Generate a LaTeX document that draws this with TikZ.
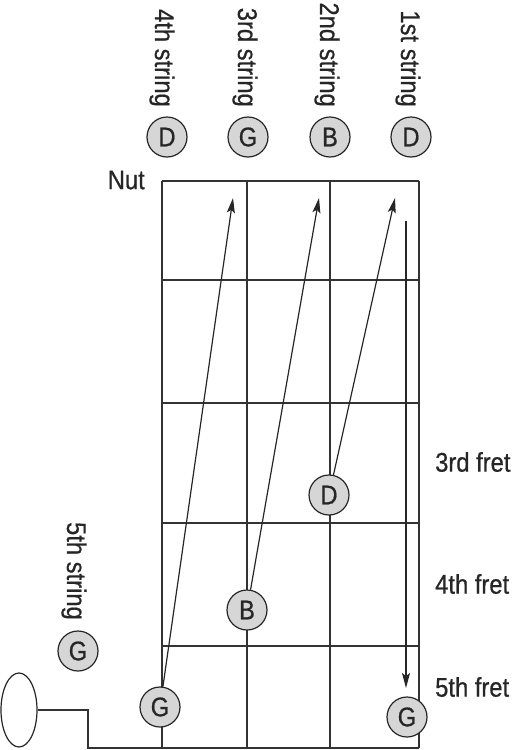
\documentclass[tikz,border=0pt]{standalone}
\usepackage{fontspec}
\setmainfont{Liberation Sans}[FakeStretch=0.88,FakeBold=0.6]
\usetikzlibrary{arrows.meta,shapes.geometric}
\begin{document}
\begin{tikzpicture}[x=1pt,y=-1pt,
  gridline/.style={draw=black!80, line width=1.3pt},
  note/.style={circle, draw=black!85, line width=1.2pt, fill=black!16, minimum size=40pt, inner sep=0pt, font=\fontsize{27}{27}\selectfont, text=black!85},
  lbl/.style={font=\fontsize{27}{27}\selectfont, text=black!85, inner sep=0pt},
  arr/.style={draw=black!85, line width=1.2pt, -{Stealth[length=15pt,width=8pt,inset=3pt]}}]
\useasboundingbox (0,0) rectangle (513,750);
% grid
\foreach \x in {162,247,330,419} \draw[gridline] (\x,181) -- (\x,748);
\foreach \y in {181,280,403,523,646} \draw[gridline] (162,\y) -- (419,\y);
% peg
\node[ellipse, draw=black!85, line width=1.2pt, minimum width=36pt, minimum height=74pt, inner sep=0pt] (peg) at (19,710) {};
\coordinate (corner) at (88,748);
\coordinate (br) at (419,748);
\draw[gridline] (peg.east) -| (corner) -- (br);
% labels
\node[lbl, rotate=-90, anchor=east] (s4) at (162,107) {4th string};
\node[lbl, rotate=-90, anchor=east] (s3) at (245,107) {3rd string};
\node[lbl, rotate=-90, anchor=east] (s2) at (327,107) {2nd string};
\node[lbl, rotate=-90, anchor=east] (s1) at (408,107) {1st string};
\node[lbl, rotate=-90, anchor=east] (s5) at (74,620) {5th string};
\node[lbl, anchor=east] (nut) at (145,180) {Nut};
\node[lbl, anchor=west] (f3) at (435,462) {3rd fret};
\node[lbl, anchor=west] (f4) at (435,584) {4th fret};
\node[lbl, anchor=west] (f5) at (435,687) {5th fret};
% notes
\node[note] (oD4) at (167,137) {D};
\node[note] (oG3) at (248,137) {G};
\node[note] (oB2) at (330,137) {B};
\node[note] (oD1) at (411,137) {D};
\node[note] (oG5) at (78,651) {G};
\node[note] (nG) at (160,707) {G};
\node[note] (nB) at (247,610) {B};
\node[note] (nD) at (329,495) {D};
\node[note] (nG1) at (407,717) {G};
% arrow targets
\coordinate (t3) at (233,198);
\coordinate (t2) at (319,198);
\coordinate (t1) at (395,198);
\coordinate (v1) at (406,221);
\coordinate (v2) at (406,688);
\draw[arr] (nG) -- (t3);
\draw[arr] (nB) -- (t2);
\draw[arr] (nD) -- (t1);
\draw[arr] (v1) -- (v2);
\end{tikzpicture}
\end{document}
